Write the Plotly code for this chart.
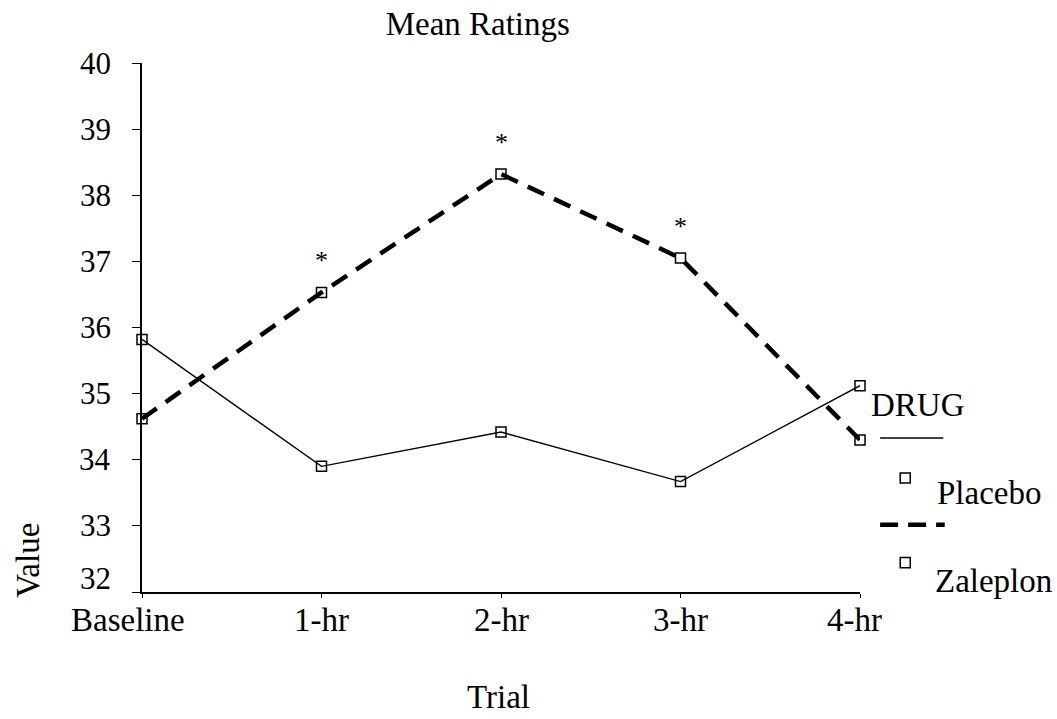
import plotly.graph_objects as go

trials = ["Baseline", "1-hr", "2-hr", "3-hr", "4-hr"]
placebo = [35.82, 33.90, 34.42, 33.67, 35.12]
zaleplon = [34.62, 36.53, 38.32, 37.05, 34.30]
significant = [False, True, True, True, False]
y_ticks = [32, 33, 34, 35, 36, 37, 38, 39, 40]

FONT = "Liberation Serif"
TXT = 33
x_idx = list(range(len(trials)))

fig = go.Figure()

fig.add_trace(go.Scatter(
    x=x_idx, y=placebo, mode="lines+markers", name="Placebo",
    line=dict(color="black", width=1.4),
    marker=dict(symbol="square-open", size=10, color="black", line=dict(width=1.5)),
    cliponaxis=False,
))
fig.add_trace(go.Scatter(
    x=x_idx, y=zaleplon, mode="lines+markers", name="Zaleplon",
    line=dict(color="black", width=4.5, dash="18px,11px"),
    marker=dict(symbol="square-open", size=10, color="black", line=dict(width=1.5)),
    cliponaxis=False,
))

# asterisks over significant time points
for i, (z, s) in enumerate(zip(zaleplon, significant)):
    if s:
        fig.add_annotation(x=i, y=z, text="*", showarrow=False, yshift=32,
                           font=dict(family=FONT, size=26, color="black"))

# y tick labels; the lowest one is lifted clear of the x axis
for v in y_ticks:
    fig.add_annotation(xref="paper", yref="y", x=-0.040, y=v, text=str(v),
                       showarrow=False, xanchor="right", yanchor="middle",
                       yshift=14 if v == y_ticks[0] else 0,
                       font=dict(family=FONT, size=31, color="black"))

# x tick labels; the first one sits a little left of the y axis
for i, t in enumerate(trials):
    fig.add_annotation(xref="x", yref="paper", x=i, y=0, text=t,
                       showarrow=False, xanchor="center", yanchor="middle",
                       yshift=-28, xshift=-14 if i == 0 else (-6 if i == len(trials) - 1 else 0),
                       font=dict(family=FONT, size=TXT, color="black"))

# hand-drawn legend block on the right
fig.add_annotation(xref="paper", yref="paper", x=1.012, y=0.353, text="DRUG",
                   showarrow=False, xanchor="left", yanchor="middle",
                   font=dict(family=FONT, size=TXT, color="black"))
fig.add_shape(type="line", xref="paper", yref="paper", x0=1.028, x1=1.116,
              y0=0.291, y1=0.291, line=dict(color="black", width=1.4))
fig.add_shape(type="rect", xref="paper", yref="paper", x0=1.056, x1=1.070,
              y0=0.206, y1=0.225, line=dict(color="black", width=1.5))
fig.add_annotation(xref="paper", yref="paper", x=1.105, y=0.187, text="Placebo",
                   showarrow=False, xanchor="left", yanchor="middle",
                   font=dict(family=FONT, size=TXT, color="black"))
fig.add_shape(type="line", xref="paper", yref="paper", x0=1.028, x1=1.118,
              y0=0.127, y1=0.127, line=dict(color="black", width=4.5, dash="18px,10px"))
fig.add_shape(type="rect", xref="paper", yref="paper", x0=1.056, x1=1.070,
              y0=0.046, y1=0.065, line=dict(color="black", width=1.5))
fig.add_annotation(xref="paper", yref="paper", x=1.102, y=0.021, text="Zaleplon",
                   showarrow=False, xanchor="left", yanchor="middle",
                   font=dict(family=FONT, size=TXT, color="black"))

# axis titles
fig.add_annotation(xref="paper", yref="paper", x=-0.158, y=0.06, text="Value",
                   showarrow=False, textangle=-90, xanchor="center", yanchor="middle",
                   font=dict(family=FONT, size=TXT, color="black"))
fig.add_annotation(xref="paper", yref="paper", x=0.496, y=-0.199, text="Trial",
                   showarrow=False, xanchor="center", yanchor="middle",
                   font=dict(family=FONT, size=TXT, color="black"))

fig.update_layout(
    width=1057, height=719,
    margin=dict(l=142, r=197, t=63, b=127),
    paper_bgcolor="white", plot_bgcolor="white",
    showlegend=False,
    title=dict(text="Mean Ratings", x=0.452, xanchor="center", y=0.968, yanchor="middle",
               font=dict(family=FONT, size=TXT, color="black")),
    font=dict(family=FONT, color="black"),
)
fig.update_xaxes(
    range=[0, 4], tickvals=x_idx, showticklabels=False, showgrid=False, zeroline=False,
    showline=True, linecolor="black", linewidth=2, ticks="outside", ticklen=4,
    tickcolor="black",
)
fig.update_yaxes(
    range=[32, 40], tickvals=y_ticks, showticklabels=False, showgrid=False,
    zeroline=False, showline=True, linecolor="black", linewidth=2,
    ticks="outside", ticklen=8, tickcolor="black",
)

fig.write_html("out.html")
